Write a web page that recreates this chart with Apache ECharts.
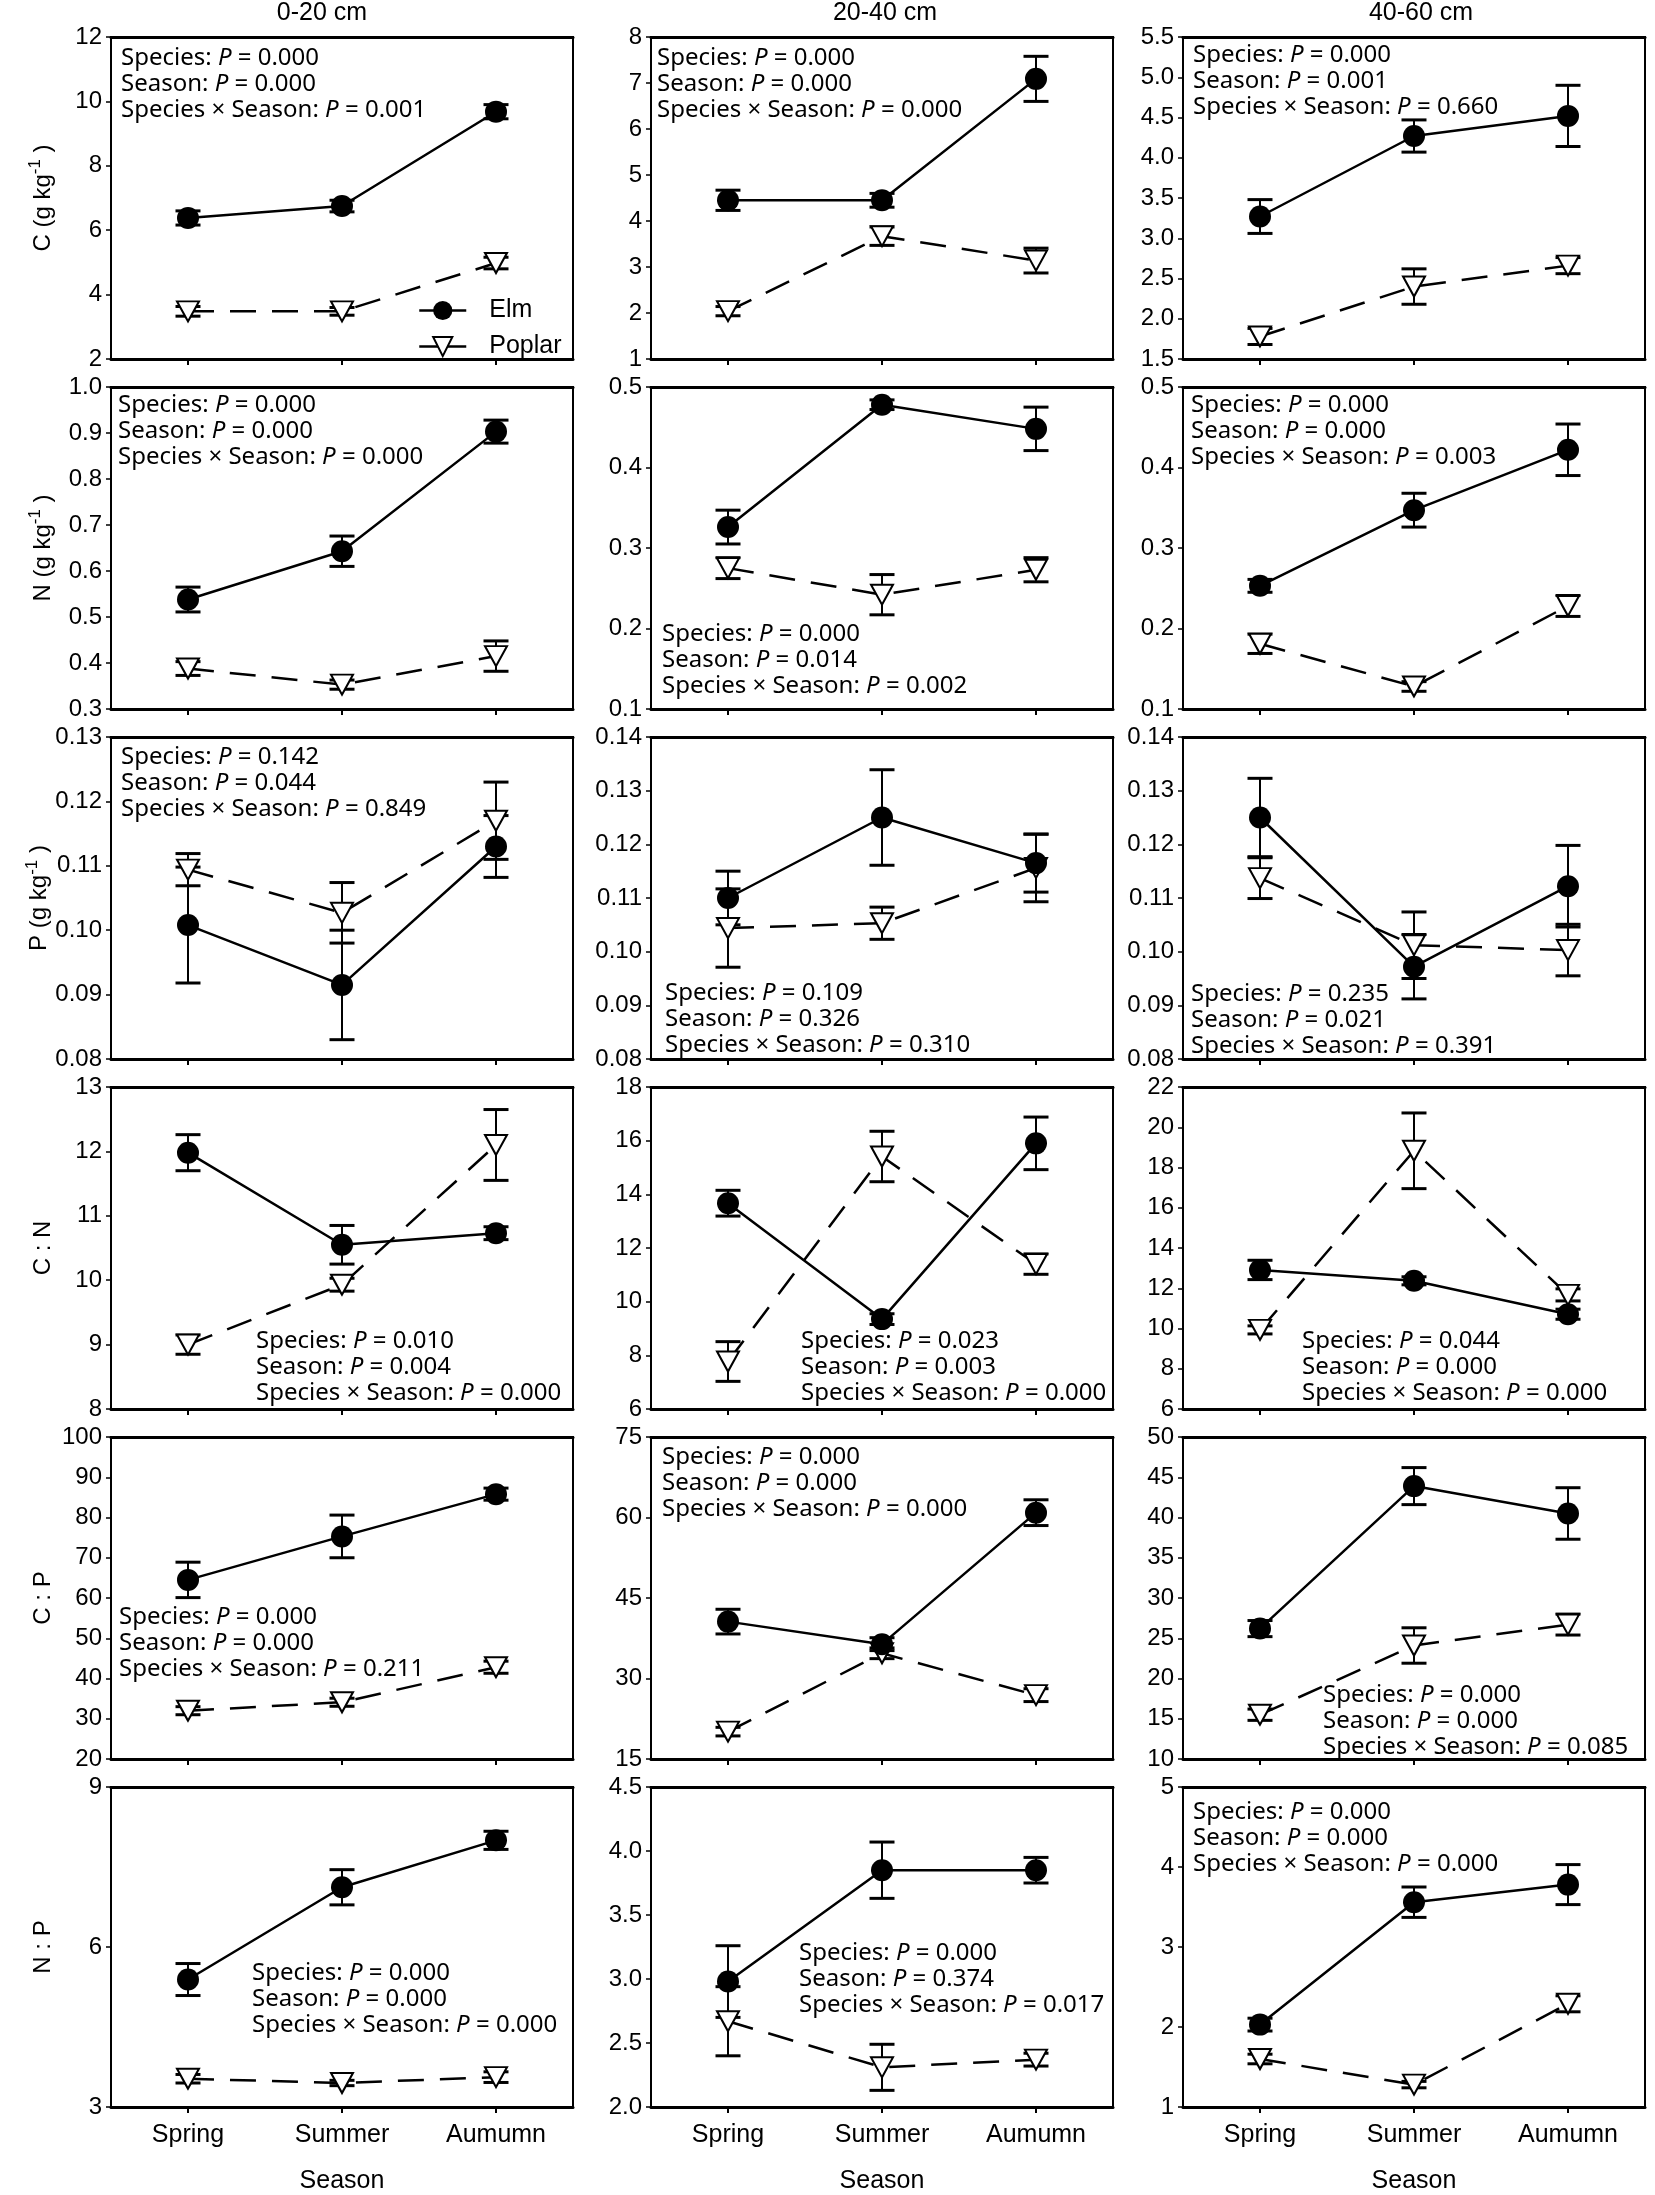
<!DOCTYPE html>
<html><head><meta charset="utf-8">
<script src="https://cdn.jsdelivr.net/npm/echarts@6/dist/echarts.min.js"></script>
<style>html,body{margin:0;padding:0;background:#fff}#c{width:1655px;height:2195px}</style>
</head><body><div id="c"></div>
<script>
// ---------------- DATA ----------------
const seasons = ['Spring', 'Summer', 'Aumumn'];
const depths = ['0-20 cm', '20-40 cm', '40-60 cm'];

// means / standard errors, indexed [depth][season]
const elmC = [[6.38, 6.75, 9.68], [4.45, 4.45, 7.09], [3.27, 4.27, 4.52]];
const elmCErr = [[0.22, 0.18, 0.22], [0.22, 0.15, 0.49], [0.21, 0.20, 0.38]];
const poplarC = [[3.48, 3.48, 4.98], [2.04, 3.67, 3.14], [1.78, 2.40, 2.66]];
const poplarCErr = [[0.15, 0.12, 0.18], [0.10, 0.20, 0.27], [0.10, 0.22, 0.10]];

const elmN = [[0.538, 0.643, 0.903], [0.326, 0.478, 0.448], [0.253, 0.347, 0.422]];
const elmNErr = [[0.027, 0.033, 0.025], [0.021, 0.006, 0.027], [0.008, 0.021, 0.032]];
const poplarN = [[0.388, 0.353, 0.415], [0.275, 0.242, 0.273], [0.181, 0.128, 0.228]];
const poplarNErr = [[0.015, 0.010, 0.033], [0.013, 0.025, 0.015], [0.012, 0.006, 0.013]];

const elmP = [[0.1008, 0.0915, 0.1130], [0.1100, 0.1250, 0.1165], [0.1250, 0.0972, 0.1122]];
const elmPErr = [[0.0090, 0.0085, 0.0048], [0.0050, 0.0089, 0.0054], [0.0073, 0.0060, 0.0076]];
const poplarP = [[0.1094, 0.1027, 0.1170], [0.1044, 0.1053, 0.1156], [0.1137, 0.1012, 0.1003]];
const poplarPErr = [[0.0025, 0.0047, 0.0060], [0.0073, 0.0030, 0.0063], [0.0038, 0.0062, 0.0048]];

const elmCN = [[11.98, 10.55, 10.73], [13.67, 9.35, 15.90], [12.91, 12.37, 10.71]];
const elmCNErr = [[0.28, 0.30, 0.10], [0.48, 0.20, 0.98], [0.48, 0.20, 0.25]];
const poplarCN = [[9.00, 9.93, 12.10], [7.77, 15.41, 11.40], [9.93, 18.83, 11.67]];
const poplarCNErr = [[0.15, 0.10, 0.55], [0.74, 0.94, 0.38], [0.20, 1.88, 0.30]];

const elmCP = [[64.5, 75.3, 85.8], [40.6, 36.4, 60.9], [26.2, 43.9, 40.5]];
const elmCPErr = [[4.4, 5.3, 1.5], [2.3, 1.2, 2.4], [1.0, 2.3, 3.2]];
const poplarCP = [[32.0, 34.1, 42.8], [20.1, 34.7, 26.9], [15.5, 24.1, 26.7]];
const poplarCPErr = [[1.0, 1.0, 1.5], [0.8, 1.0, 1.2], [0.7, 2.2, 1.3]];

const elmNP = [[5.39, 7.12, 8.00], [2.98, 3.85, 3.85], [2.03, 3.56, 3.78]];
const elmNPErr = [[0.30, 0.33, 0.17], [0.28, 0.22, 0.10], [0.08, 0.19, 0.25]];
const poplarNP = [[3.53, 3.45, 3.56], [2.67, 2.31, 2.37], [1.60, 1.28, 2.29]];
const poplarNPErr = [[0.08, 0.05, 0.10], [0.27, 0.18, 0.05], [0.06, 0.04, 0.10]];

// ANOVA P values [depth] -> [Species, Season, Species x Season]
const statsC = [['0.000', '0.000', '0.001'], ['0.000', '0.000', '0.000'], ['0.000', '0.001', '0.660']];
const statsN = [['0.000', '0.000', '0.000'], ['0.000', '0.014', '0.002'], ['0.000', '0.000', '0.003']];
const statsP = [['0.142', '0.044', '0.849'], ['0.109', '0.326', '0.310'], ['0.235', '0.021', '0.391']];
const statsCN = [['0.010', '0.004', '0.000'], ['0.023', '0.003', '0.000'], ['0.044', '0.000', '0.000']];
const statsCP = [['0.000', '0.000', '0.211'], ['0.000', '0.000', '0.000'], ['0.000', '0.000', '0.085']];
const statsNP = [['0.000', '0.000', '0.000'], ['0.000', '0.374', '0.017'], ['0.000', '0.000', '0.000']];

// y-axis ticks: [min, max, interval, decimals] per depth
const ticksC = [[2, 12, 2, 0], [1, 8, 1, 0], [1.5, 5.5, 0.5, 1]];
const ticksN = [[0.3, 1.0, 0.1, 1], [0.1, 0.5, 0.1, 1], [0.1, 0.5, 0.1, 1]];
const ticksP = [[0.08, 0.13, 0.01, 2], [0.08, 0.14, 0.01, 2], [0.08, 0.14, 0.01, 2]];
const ticksCN = [[8, 13, 1, 0], [6, 18, 2, 0], [6, 22, 2, 0]];
const ticksCP = [[20, 100, 10, 0], [15, 75, 15, 0], [10, 50, 5, 0]];
const ticksNP = [[3, 9, 3, 0], [2, 4.5, 0.5, 1], [1, 5, 1, 0]];

// ---------------- LAYOUT ----------------
const AR = '"Liberation Sans", Arial, sans-serif';
const NS = '"Noto Sans", sans-serif';
const GRID_LEFT = [111, 651, 1183];
const GRID_W = 462, GRID_TOP0 = 37, ROW_PITCH = 350, GRID_H = 322;
const statPos = [
  [[121, 45], [657, 45], [1193, 42]],
  [[118, 392], [662, 621], [1191, 392]],
  [[121, 744], [665, 980], [1191, 981]],
  [[256, 1328], [801, 1328], [1302, 1328]],
  [[119, 1604], [662, 1444], [1323, 1682]],
  [[252, 1960], [799, 1940], [1193, 1799]]
];
const titleX = [322, 885, 1421];

const rows = [
  {yName: '{a|C (g kg}{s|-1}{a| )}', elm: elmC, elmErr: elmCErr, pop: poplarC, popErr: poplarCErr, stats: statsC, ticks: ticksC},
  {yName: '{a|N (g kg}{s|-1}{a| )}', elm: elmN, elmErr: elmNErr, pop: poplarN, popErr: poplarNErr, stats: statsN, ticks: ticksN},
  {yName: '{a|P (g kg}{s|-1}{a| )}', elm: elmP, elmErr: elmPErr, pop: poplarP, popErr: poplarPErr, stats: statsP, ticks: ticksP},
  {yName: '{a|C : N}', elm: elmCN, elmErr: elmCNErr, pop: poplarCN, popErr: poplarCNErr, stats: statsCN, ticks: ticksCN},
  {yName: '{a|C : P}', elm: elmCP, elmErr: elmCPErr, pop: poplarCP, popErr: poplarCPErr, stats: statsCP, ticks: ticksCP},
  {yName: '{a|N : P}', elm: elmNP, elmErr: elmNPErr, pop: poplarNP, popErr: poplarNPErr, stats: statsNP, ticks: ticksNP}
];

function renderErr(params, api) {
  const x = api.value(0);
  const pLo = api.coord([x, api.value(1)]);
  const pHi = api.coord([x, api.value(2)]);
  const hw = 12.5;
  const st = {stroke: '#000', lineWidth: 2};
  const cap = {stroke: '#000', lineWidth: 3};
  return {type: 'group', children: [
    {type: 'line', shape: {x1: pLo[0], y1: pLo[1], x2: pHi[0], y2: pHi[1]}, style: st},
    {type: 'line', shape: {x1: pLo[0] - hw, y1: pLo[1], x2: pLo[0] + hw, y2: pLo[1]}, style: cap},
    {type: 'line', shape: {x1: pHi[0] - hw, y1: pHi[1], x2: pHi[0] + hw, y2: pHi[1]}, style: cap}
  ]};
}

const grids = [], xAxes = [], yAxes = [], series = [], graphics = [];

depths.forEach((d, c) => {
  graphics.push({type: 'text', x: titleX[c], y: 1, silent: true,
    style: {text: d, fill: '#000', font: '25px ' + AR, align: 'center', verticalAlign: 'top'}});
});

rows.forEach((row, r) => {
  for (let c = 0; c < 3; c++) {
    const gi = r * 3 + c;
    grids.push({left: GRID_LEFT[c], top: GRID_TOP0 + ROW_PITCH * r, width: GRID_W, height: GRID_H,
      show: true, borderColor: '#000', borderWidth: 2, backgroundColor: 'transparent'});
    const last = r === 5;
    xAxes.push({gridIndex: gi, type: 'category', data: seasons, position: 'bottom', boundaryGap: true,
      axisLine: {show: true, onZero: false, lineStyle: {color: '#000', width: 3}},
      axisTick: {show: true, alignWithLabel: true, length: 6, lineStyle: {color: '#000', width: 2}},
      axisLabel: {show: last, color: '#000', fontSize: 25, fontFamily: AR, margin: 16},
      name: last ? 'Season' : '', nameLocation: 'middle', nameGap: 62,
      nameTextStyle: {color: '#000', fontSize: 25, fontFamily: AR},
      splitLine: {show: false}});
    xAxes.push({gridIndex: gi, type: 'category', data: seasons, position: 'top',
      axisLine: {show: true, onZero: false, lineStyle: {color: '#000', width: 3}},
      axisTick: {show: false}, axisLabel: {show: false}, splitLine: {show: false}});
    const [mn, mx, iv, dec] = row.ticks[c];
    yAxes.push({gridIndex: gi, type: 'value', min: mn, max: mx, interval: iv,
      axisLine: {show: true, lineStyle: {color: '#000', width: 2}},
      axisTick: {show: true, length: 5, lineStyle: {color: '#000', width: 1.5}},
      axisLabel: {color: '#000', fontSize: 24, fontFamily: AR, margin: 9, formatter: v => Number(v).toFixed(dec)},
      splitLine: {show: false},
      name: c === 0 ? row.yName : '', nameLocation: 'middle', nameRotate: 90, nameGap: 52,
      nameTextStyle: {color: '#000', fontFamily: AR, fontSize: 24,
        rich: {a: {fontSize: 24, fontFamily: AR, color: '#000', lineHeight: 32},
               s: {fontSize: 17, fontFamily: AR, color: '#000', lineHeight: 14, verticalAlign: 'top'}}}});

    const errData = [];
    seasons.forEach((s, k) => {
      errData.push([k, row.elm[c][k] - row.elmErr[c][k], row.elm[c][k] + row.elmErr[c][k]]);
      errData.push([k, row.pop[c][k] - row.popErr[c][k], row.pop[c][k] + row.popErr[c][k]]);
    });
    series.push({type: 'custom', xAxisIndex: 2 * gi, yAxisIndex: gi, renderItem: renderErr,
      data: errData, encode: {x: 0, y: [1, 2]}, z: 2, silent: true, animation: false});
    series.push({name: 'Poplar', type: 'line', xAxisIndex: 2 * gi, yAxisIndex: gi, data: row.pop[c],
      symbol: 'triangle', symbolSize: [22, 20], symbolRotate: 180, showAllSymbol: true,
      lineStyle: {color: '#000', width: 2.5, type: [26, 16]},
      itemStyle: {color: '#fff', borderColor: '#000', borderWidth: 2}, z: 3, animation: false, silent: true});
    series.push({name: 'Elm', type: 'line', xAxisIndex: 2 * gi, yAxisIndex: gi, data: row.elm[c],
      symbol: 'circle', symbolSize: 22, showAllSymbol: true,
      lineStyle: {color: '#000', width: 2.5},
      itemStyle: {color: '#000', borderColor: '#000', borderWidth: 0}, z: 4, animation: false, silent: true});

    const [sx, sy] = statPos[r][c];
    const st = row.stats[c];
    const txt = '{n|Species: }{i|P}{n| = ' + st[0] + '}\n' +
                '{n|Season: }{i|P}{n| = ' + st[1] + '}\n' +
                '{n|Species × Season: }{i|P}{n| = ' + st[2] + '}';
    graphics.push({type: 'text', x: sx, y: sy, silent: true, z: 10,
      style: {text: txt, align: 'left', verticalAlign: 'top', fill: '#000',
        rich: {n: {fontSize: 24, fontFamily: NS, fill: '#000', lineHeight: 26},
               i: {fontSize: 24, fontFamily: NS, fontStyle: 'italic', fill: '#000', lineHeight: 26}}}});
  }
});

const chart = echarts.init(document.getElementById('c'), null, {renderer: 'canvas'});
chart.setOption({
  animation: false,
  backgroundColor: '#fff',
  grid: grids, xAxis: xAxes, yAxis: yAxes, series: series,
  legend: {data: ['Elm', 'Poplar'], orient: 'vertical', left: 413, top: 293,
    itemWidth: 47, itemHeight: 24, itemGap: 11, selectedMode: false,
    textStyle: {fontSize: 25, fontFamily: AR, color: '#000', padding: [0, 0, 0, 18]},
    lineStyle: {type: 'solid', width: 2.5, color: '#000'}},
  graphic: graphics
});
</script></body></html>
